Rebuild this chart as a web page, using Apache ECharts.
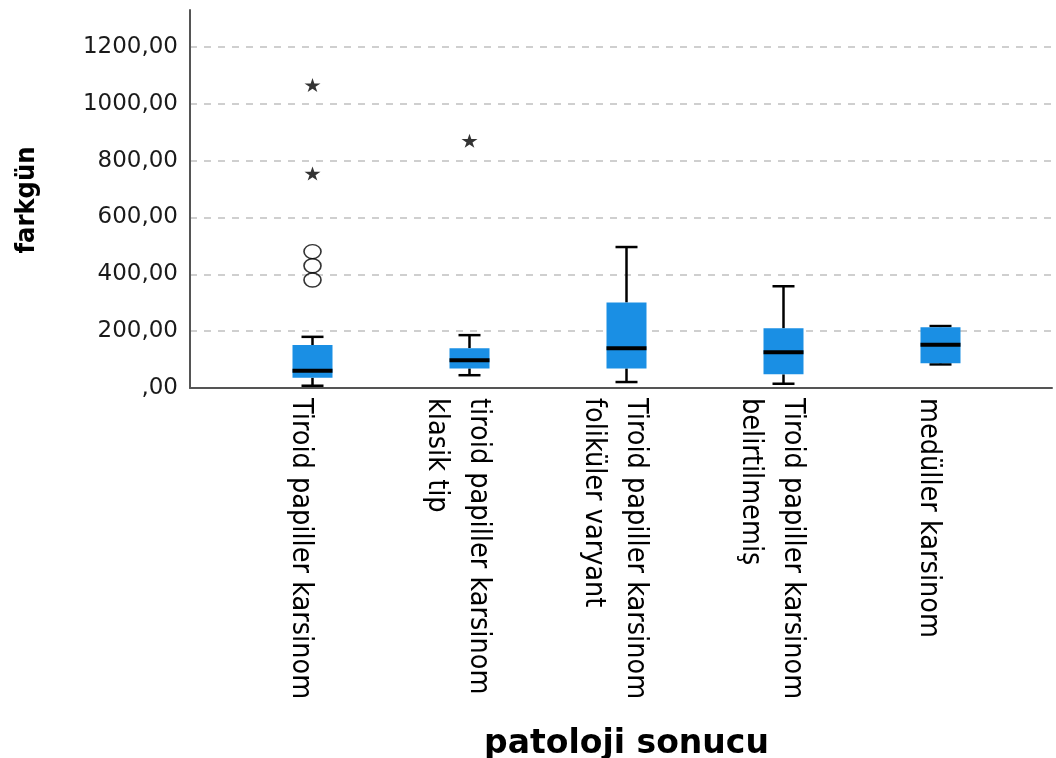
<!DOCTYPE html>
<html>
<head>
<meta charset="utf-8">
<script src="https://cdn.jsdelivr.net/npm/echarts@6/dist/echarts.min.js"></script>
<style>
html,body{margin:0;padding:0;background:#fff;}
#chart{width:1056px;height:758px;}
</style>
</head>
<body>
<div id="chart"></div>
<script>
// ---- data ----
const categories = [
  'Tiroid papiller karsinom',
  'tiroid papiller karsinom\nklasik tip',
  'Tiroid papiller karsinom\nfoliküler varyant',
  'Tiroid papiller karsinom\nbelirtilmemiş',
  'medüller karsinom'
];
// [min, Q1, median, Q3, max]
const boxStats = [
  [8, 36, 61, 151, 180],
  [45, 69, 98, 140, 186],
  [21, 69, 140, 301, 496],
  [15, 48, 126, 210, 358],
  [83, 87, 152, 214, 218]
];
// [category index, value]
const mildOutliers = [[0, 380], [0, 430], [0, 480]];
const extremeOutliers = [[0, 755], [0, 1066], [1, 870]];
const yTickValues = [0, 200, 400, 600, 800, 1000, 1200];
const yMax = 1330;
const xTitle = 'patoloji sonucu';
const yTitle = 'farkgün';

const narrow = '"Liberation Sans Narrow", "Arial Narrow", "DejaVu Sans Condensed", sans-serif';
const BLUE = '#1a8fe4';

function fmt(v) {
  if (yTickValues.indexOf(v) < 0) return '';
  return v === 0 ? ',00' : v.toFixed(2).replace('.', ',');
}

function renderBox(params, api) {
  const idx = api.value(0);
  const pMin = api.coord([idx, api.value(1)]);
  const pQ1 = api.coord([idx, api.value(2)]);
  const pMed = api.coord([idx, api.value(3)]);
  const pQ3 = api.coord([idx, api.value(4)]);
  const pMax = api.coord([idx, api.value(5)]);
  const bw = 40, cw = 22, x = pMed[0];
  const ws = { stroke: '#000', lineWidth: 2.5 };
  return {
    type: 'group',
    children: [
      { type: 'line', shape: { x1: x, y1: pMax[1], x2: x, y2: pQ3[1] }, style: ws },
      { type: 'line', shape: { x1: x, y1: pQ1[1], x2: x, y2: pMin[1] }, style: ws },
      { type: 'line', shape: { x1: x - cw / 2, y1: pMax[1], x2: x + cw / 2, y2: pMax[1] }, style: ws },
      { type: 'line', shape: { x1: x - cw / 2, y1: pMin[1], x2: x + cw / 2, y2: pMin[1] }, style: ws },
      { type: 'rect', shape: { x: x - bw / 2, y: pQ3[1], width: bw, height: pQ1[1] - pQ3[1] }, style: { fill: BLUE } },
      { type: 'line', shape: { x1: x - bw / 2, y1: pMed[1], x2: x + bw / 2, y2: pMed[1] }, style: { stroke: '#000', lineWidth: 4 } }
    ]
  };
}

const chart = echarts.init(document.getElementById('chart'), null, { renderer: 'canvas' });
chart.setOption({
  animation: false,
  backgroundColor: '#fff',
  grid: [
    { left: 190, right: 4, top: 10, bottom: 370, containLabel: false, outerBoundsMode: 'none' },
    { left: 234, width: 785, top: 10, bottom: 370, containLabel: false, outerBoundsMode: 'none' },
    { left: 222, width: 785, top: 10, bottom: 370, containLabel: false, outerBoundsMode: 'none' }
  ],
  xAxis: [
    {
      gridIndex: 0, type: 'value', min: 0, max: 1,
      axisLine: { show: true, lineStyle: { color: '#555', width: 2 } },
      axisTick: { show: false }, axisLabel: { show: false }, splitLine: { show: false }
    },
    {
      gridIndex: 1, type: 'category', data: categories,
      axisLine: { show: false }, axisTick: { show: false }, splitLine: { show: false },
      axisLabel: { show: false },
      name: xTitle, nameLocation: 'middle', nameGap: 340,
      nameTextStyle: { fontFamily: '"DejaVu Sans", sans-serif', fontWeight: 'bold', fontSize: 33, color: '#000' }
    },
    {
      gridIndex: 2, type: 'category', data: categories,
      axisLine: { show: false }, axisTick: { show: false }, splitLine: { show: false },
      axisLabel: {
        interval: 0, rotate: -90, margin: 10, color: '#000',
        fontFamily: narrow, fontSize: 28.5, lineHeight: 42
      }
    }
  ],
  yAxis: [
    {
      gridIndex: 0, type: 'value', min: 0, max: yMax, interval: 200,
      axisLine: { show: true, lineStyle: { color: '#555', width: 2 } },
      axisTick: { show: false },
      axisLabel: {
        formatter: fmt, showMaxLabel: false, margin: 12, color: '#1a1a1a',
        fontFamily: '"DejaVu Sans", sans-serif', fontSize: 23
      },
      splitLine: { show: true, showMinLine: false, showMaxLine: false, lineStyle: { color: '#cfcfcf', width: 2, type: [7, 7] } }
    },
    { gridIndex: 1, type: 'value', min: 0, max: yMax, interval: 200, show: false },
    { gridIndex: 2, type: 'value', min: 0, max: yMax, interval: 200, show: false }
  ],
  graphic: [
    {
      type: 'text', x: 27, y: 200, rotation: Math.PI / 2,
      style: {
        text: yTitle, fontFamily: narrow, fontWeight: 'bold', fontSize: 27,
        fill: '#000', align: 'center', verticalAlign: 'middle'
      }
    }
  ],
  series: [
    {
      type: 'custom', xAxisIndex: 1, yAxisIndex: 1,
      renderItem: renderBox,
      encode: { x: 0, y: [1, 2, 3, 4, 5] },
      data: boxStats.map((s, i) => [i].concat(s)),
      z: 3
    },
    {
      type: 'scatter', xAxisIndex: 1, yAxisIndex: 1,
      symbol: 'circle', symbolSize: [17, 14],
      itemStyle: { color: 'rgba(0,0,0,0)', borderColor: '#000', borderWidth: 1.5 },
      data: mildOutliers, z: 4
    },
    {
      type: 'scatter', xAxisIndex: 1, yAxisIndex: 1,
      symbol: 'path://M50,0 L61,35 L98,35 L68,57 L79,91 L50,70 L21,91 L32,57 L2,35 L39,35 Z',
      symbolSize: [16, 14],
      itemStyle: { color: '#000' },
      data: extremeOutliers, z: 4
    }
  ]
});
</script>
</body>
</html>
